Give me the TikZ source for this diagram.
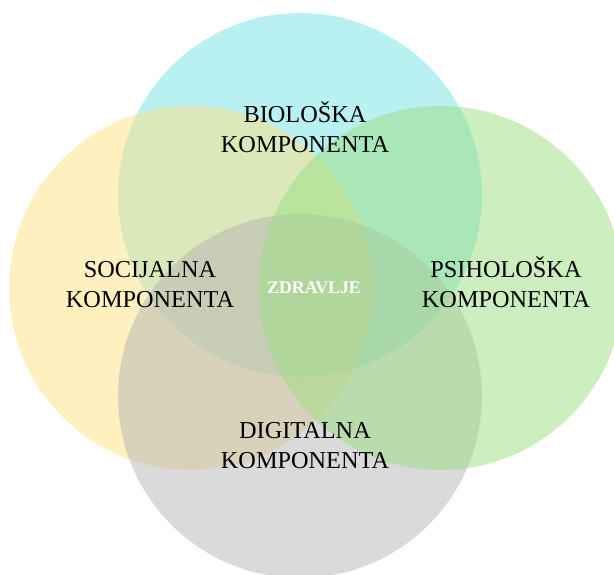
\documentclass[tikz,border=0pt]{standalone}
\usepackage{fontspec}
\setmainfont{Liberation Serif}
\definecolor{cbio}{HTML}{73E1E5}
\definecolor{csoc}{HTML}{FFE181}
\definecolor{cpsi}{HTML}{9BDF81}
\definecolor{cdig}{HTML}{B5B5B5}
\newcommand{\twolines}[2]{\begin{tabular}[t]{@{}c@{}}#1\\#2\end{tabular}}
\tikzset{
  venn/.style={fill opacity=0.5, draw=none},
  lab/.style={anchor=base, inner sep=0pt, font=\fontsize{24.3}{30}\selectfont, text=black},
  centerlab/.style={anchor=base, inner sep=0pt, font=\fontsize{17.8}{20}\selectfont\bfseries, text=white}
}
\begin{document}
\begin{tikzpicture}[x=1pt,y=-1pt]
  \useasboundingbox (0,0) rectangle (614,574);
  \begin{scope}
    \clip (0,0) rectangle (614,574);
    \fill[venn, cbio] (300,195) circle[radius=182];
    \fill[venn, csoc] (191,288) circle[radius=182];
    \fill[venn, cdig] (300,396) circle[radius=182];
    \fill[venn, cpsi] (441,288) circle[radius=182];
  \end{scope}
  \node[lab] (bio) at (305,122) {\twolines{BIOLOŠKA}{KOMPONENTA}};
  \node[lab] (soc) at (150,277) {\twolines{SOCIJALNA}{KOMPONENTA}};
  \node[lab] (psi) at (506,277) {\twolines{PSIHOLOŠKA}{KOMPONENTA}};
  \node[lab] (dig) at (305,438) {\twolines{DIGITALNA}{KOMPONENTA}};
  \node[centerlab] (zdr) at (314,293) {ZDRAVLJE};
\end{tikzpicture}
\end{document}
